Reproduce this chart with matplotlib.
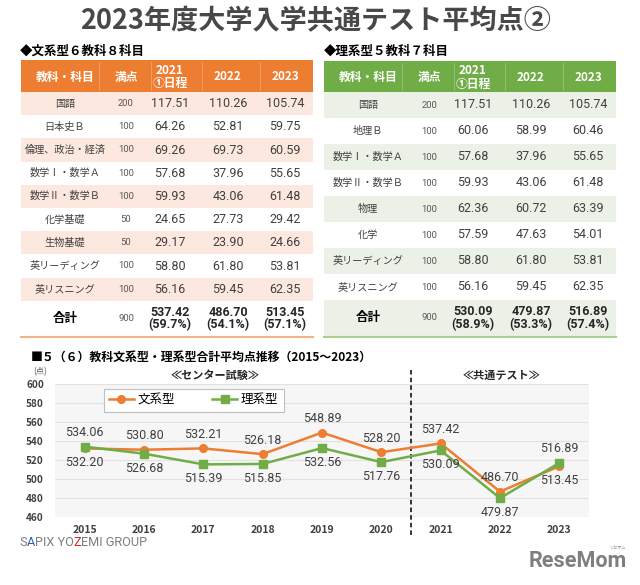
import numpy as np
import matplotlib
matplotlib.use('Agg')
import matplotlib.pyplot as plt
from matplotlib.patches import Rectangle

plt.rcParams['font.family'] = ['Noto Sans CJK JP', 'DejaVu Sans']

# ---- data ----
head_cols = ['教科・科目', '満点', '2021\n①日程', '2022', '2023']

bun_subjects = ['国語', '日本史Ｂ', '倫理、政治・経済', '数学Ⅰ・数学Ａ', '数学Ⅱ・数学Ｂ',
                '化学基礎', '生物基礎', '英リーディング', '英リスニング']
bun_full = [200, 100, 100, 100, 100, 50, 50, 100, 100]
bun_2021 = [117.51, 64.26, 69.26, 57.68, 59.93, 24.65, 29.17, 58.80, 56.16]
bun_2022 = [110.26, 52.81, 69.73, 37.96, 43.06, 27.73, 23.90, 61.80, 59.45]
bun_2023 = [105.74, 59.75, 60.59, 55.65, 61.48, 29.42, 24.66, 53.81, 62.35]
bun_total = [537.42, 486.70, 513.45]
bun_pct = [59.7, 54.1, 57.1]

ri_subjects = ['国語', '地理Ｂ', '数学Ⅰ・数学Ａ', '数学Ⅱ・数学Ｂ', '物理', '化学',
               '英リーディング', '英リスニング']
ri_full = [200, 100, 100, 100, 100, 100, 100, 100]
ri_2021 = [117.51, 60.06, 57.68, 59.93, 62.36, 57.59, 58.80, 56.16]
ri_2022 = [110.26, 58.99, 37.96, 43.06, 60.72, 47.63, 61.80, 59.45]
ri_2023 = [105.74, 60.46, 55.65, 61.48, 63.39, 54.01, 53.81, 62.35]
ri_total = [530.09, 479.87, 516.89]
ri_pct = [58.9, 53.3, 57.4]

years = ['2015', '2016', '2017', '2018', '2019', '2020', '2021', '2022', '2023']
bunkei = [532.20, 530.80, 532.21, 526.18, 548.89, 528.20, 537.42, 486.70, 513.45]
rikei = [534.06, 526.68, 515.39, 515.85, 532.56, 517.76, 530.09, 479.87, 516.89]
# label above (+1) or below (-1) the point
bun_side = [-1, 1, 1, 1, 1, 1, 1, 1, -1]
ri_side = [1, -1, -1, -1, -1, -1, -1, -1, 1]

ORANGE = '#ED7D31'
GREEN = '#70AD47'
TXT = '#404040'

fig = plt.figure(figsize=(6.4, 5.85), dpi=100)
bg = fig.add_axes([0, 0, 1, 1])
bg.set_xlim(0, 640)
bg.set_ylim(585, 0)
bg.axis('off')

bg.text(316, 21, '2023年度大学入学共通テスト平均点②', ha='center', va='center',
        fontsize=19.5, fontweight='bold', color='#484848')
bg.text(20, 51, '◆文系型６教科８科目', ha='left', va='center', fontsize=9, fontweight='bold', color='black')
bg.text(324, 51, '◆理系型５教科７科目', ha='left', va='center', fontsize=9, fontweight='bold', color='black')


def draw_table(x0, x1, top, row_h, cols_x, head_col, shade, line_col, shade_odd,
               subjects, full, v21, v22, v23, total, pct):
    head_b = 92
    bg.add_patch(Rectangle((x0, top), x1 - x0, head_b - top, color=head_col, lw=0))
    for a, b in zip(cols_x[:-1], cols_x[1:]):
        bg.plot([(a + b) / 2 + 3] * 2, [top + 2, head_b - 2], color='white', lw=0.5, alpha=0.35)
    for cx, lab in zip(cols_x, head_cols):
        bg.text(cx, (top + head_b) / 2 + 1, lab, ha='center', va='center', color='white',
                fontsize=8.5, fontweight='bold', linespacing=1.05)
    n = len(subjects)
    for i in range(n):
        y = head_b + i * row_h
        if (i % 2 == 0):
            bg.add_patch(Rectangle((x0, y), x1 - x0, row_h, color=shade, lw=0))
        cy = y + row_h / 2
        bg.text(cols_x[0], cy, subjects[i], ha='center', va='center', fontsize=7.3, color=TXT)
        bg.text(cols_x[1], cy, str(full[i]), ha='center', va='center', fontsize=6.8,
                color='#595959', family=['Liberation Sans Narrow', 'Roboto'])
        for cx, v in zip(cols_x[2:], (v21[i], v22[i], v23[i])):
            bg.text(cx, cy, f'{v:.2f}', ha='center', va='center', fontsize=9, color=TXT,
                    family=['Roboto', 'DejaVu Sans'])
    y = head_b + n * row_h
    if shade_odd:
        bg.add_patch(Rectangle((x0, y), x1 - x0, 336 - y, color=shade, lw=0))
    cy = (y + 336) / 2
    bg.text(cols_x[0], cy, '合計', ha='center', va='center', fontsize=9, fontweight='bold', color='black')
    bg.text(cols_x[1], cy, str(sum(full)), ha='center', va='center', fontsize=6.8,
            color='#595959', family=['Liberation Sans Narrow', 'Roboto'])
    for cx, t, p in zip(cols_x[2:], total, pct):
        bg.text(cx, cy, f'{t:.2f}\n({p:.1f}%)', ha='center', va='center', fontsize=9,
                fontweight='bold', color='#262626', linespacing=0.95, family=['Roboto', 'DejaVu Sans'])
    bg.plot([x0, x1], [336.5, 336.5], color=line_col, lw=1.5)


draw_table(21, 313, 60, 23.2, [65, 126, 170, 228, 285], ORANGE, '#FCE8DE', '#F4B183', False,
           bun_subjects, bun_full, bun_2021, bun_2022, bun_2023, bun_total, bun_pct)
draw_table(324, 616, 61, 26.0, [368, 429, 473, 531, 588], GREEN, '#EBF1E6', '#A9D18E', True,
           ri_subjects, ri_full, ri_2021, ri_2022, ri_2023, ri_total, ri_pct)

# ---- line chart ----
bg.text(31, 357, '■５（６）教科文系型・理系型合計平均点推移（2015～2023）', ha='left', va='center',
        fontsize=8.6, fontweight='bold', color='black')
bg.text(40, 372, '(点)', ha='center', va='center', fontsize=6, color='#595959')
bg.text(215, 375, '≪センター試験≫', ha='center', va='center', fontsize=8, fontweight='bold', color='#262626')
bg.text(502, 375, '≪共通テスト≫', ha='center', va='center', fontsize=8, fontweight='bold', color='#262626')

ax = fig.add_axes([55 / 640, 1 - 517 / 585, 534 / 640, 133 / 585])
ax.set_facecolor('#F6F6F6')
x = np.arange(len(years))
ax.plot(x, bunkei, color=ORANGE, lw=1.8, marker='o', ms=5.5, label='文系型', zorder=3)
ax.plot(x, rikei, color=GREEN, lw=1.8, marker='s', ms=5.5, label='理系型', zorder=3)
for i in x:
    ax.annotate(f'{bunkei[i]:.2f}', (i, bunkei[i]), xytext=(0, 10 * bun_side[i]),
                textcoords='offset points', ha='center', va='center', fontsize=9, color=TXT,
                family=['Roboto', 'DejaVu Sans'])
    ax.annotate(f'{rikei[i]:.2f}', (i, rikei[i]), xytext=(0, 10.5 * ri_side[i]),
                textcoords='offset points', ha='center', va='center', fontsize=9, color=TXT,
                family=['Roboto', 'DejaVu Sans'])
ax.set_xlim(-0.5, len(years) - 0.5)
ax.set_ylim(460, 600)
ax.set_yticks(np.arange(460, 601, 20))
ax.set_xticks(x)
ax.set_xticklabels(years, fontsize=7.5, fontweight='bold', color=TXT)
ax.tick_params(axis='y', labelsize=7.2, colors=TXT, length=0, pad=8)
ax.tick_params(axis='x', length=0, pad=6)
for lab in ax.get_yticklabels():
    lab.set_fontweight('bold')
ax.grid(axis='y', color='#E2E2E2', lw=0.8)
ax.set_axisbelow(True)
for s in ax.spines.values():
    s.set_visible(False)
ax.axvline(5.5, ymin=-0.135, ymax=1.12, color='black', lw=1.1, ls=(0, (3, 2)), clip_on=False)

leg = ax.legend(loc='center', ncol=2, bbox_to_anchor=(88 / 640, 1 - 411 / 585, 211 / 640, 22 / 585),
                bbox_transform=fig.transFigure, fontsize=9, frameon=True, fancybox=False,
                handlelength=2.0, columnspacing=3.0, handletextpad=0.3, borderpad=0.4)
leg.get_frame().set_edgecolor('#BFBFBF')
leg.get_frame().set_facecolor('white')
leg.get_frame().set_alpha(1)
leg.get_frame().set_linewidth(0.8)

# ---- footer ----
fig.canvas.draw()
renderer = fig.canvas.get_renderer()
parts = [('S', '#7F7F7F'), ('A', '#2E5FB4'), ('PIX YO', '#7F7F7F'), ('Z', '#E0262B'), ('EMI GROUP', '#7F7F7F')]
xp = 19 / 640
for s, c in parts:
    t = fig.text(xp, 1 - 543 / 585, s, ha='left', va='center', fontsize=9.2, color=c,
                 family=['Roboto', 'DejaVu Sans'])
    bb = t.get_window_extent(renderer)
    xp += bb.width / fig.bbox.width

bg.text(578, 561, 'ReseMom', ha='center', va='center', fontsize=15.5, fontweight='bold',
        color='#7F7F7F', family=['Roboto', 'DejaVu Sans'])
bg.text(617, 548, 'リセマム', ha='center', va='center', fontsize=3, color='#7F7F7F')

fig.savefig('out.png', dpi=100)
